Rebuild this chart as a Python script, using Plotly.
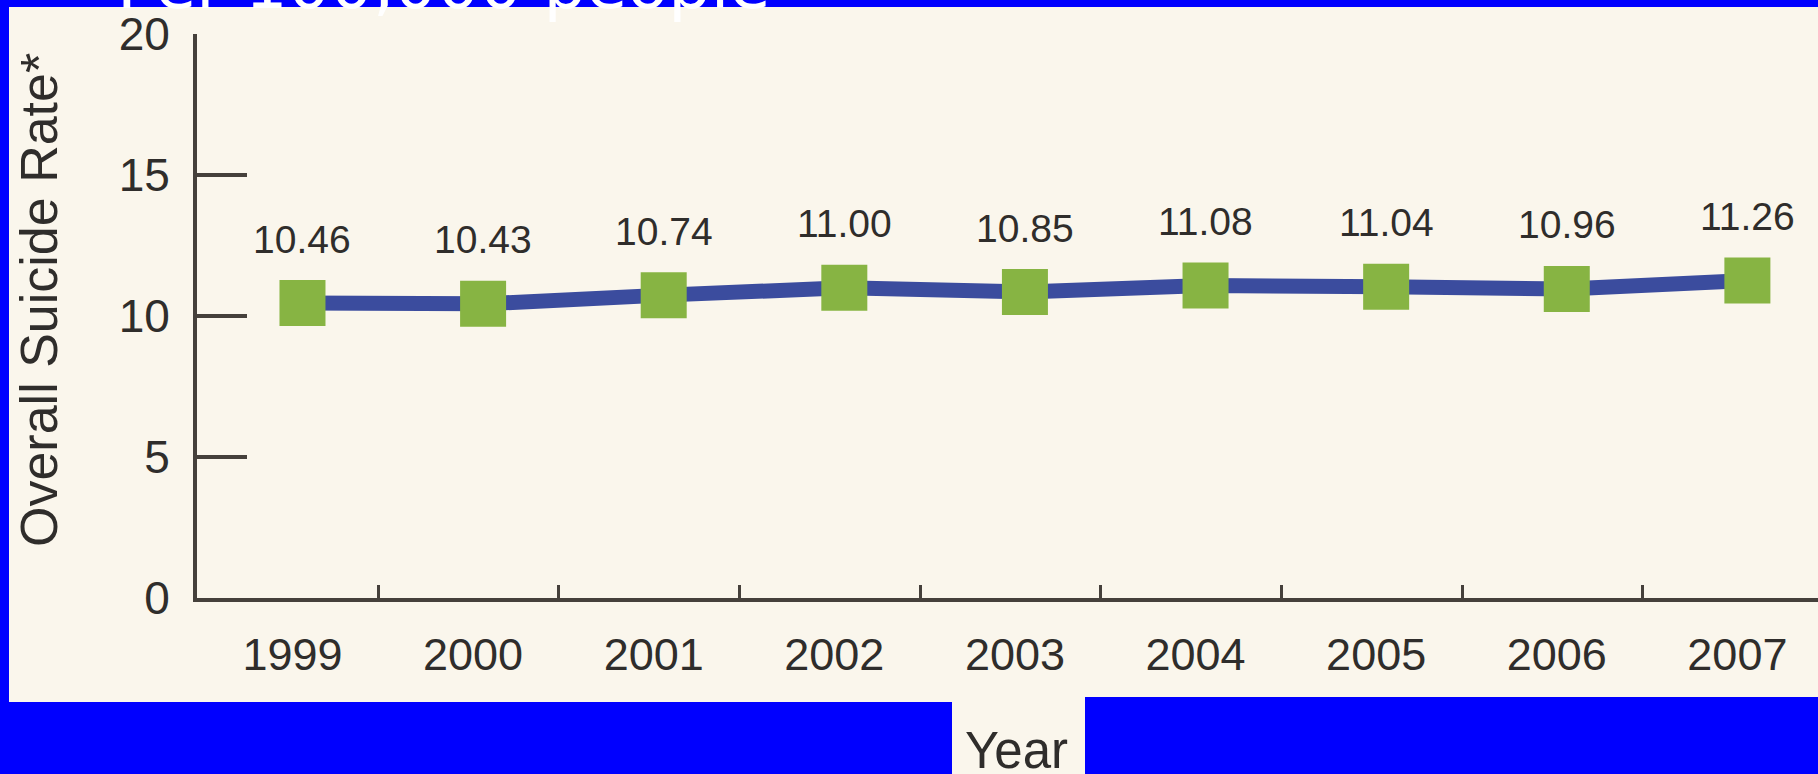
import plotly.graph_objects as go

# ---- data ----
years = ["1999", "2000", "2001", "2002", "2003", "2004", "2005", "2006", "2007"]
rates = [10.46, 10.43, 10.74, 11.00, 10.85, 11.08, 11.04, 10.96, 11.26]
y_ticks = [0, 5, 10, 15, 20]
title_text = "Per 100,000 people"
y_title = "Overall Suicide Rate*"
x_title = "Year"

W, H = 1818, 774
L, R, T, B = 197, 0, 34, 176
PW, PH = W - L - R, H - T - B

def px(x):
    return (x - L) / PW

def py(y):
    return (H - B - y) / PH

BLUE = "#0000ff"
CREAM = "#faf6ec"
AXIS = "#45403b"
TEXT = "#2f2d2b"
FONT = "Liberation Sans, Arial, sans-serif"

idx = list(range(len(years)))

fig = go.Figure()
fig.add_trace(go.Scatter(
    x=idx, y=rates, mode="lines+markers",
    line=dict(color="#3b4c9e", width=15),
    marker=dict(symbol="square", size=46, color="#87b443", line=dict(width=0)),
    hoverinfo="skip", showlegend=False,
))

annotations = []
for i, v in zip(idx, rates):
    annotations.append(dict(
        x=i, y=v, xref="x", yref="y", text=f"{v:.2f}", showarrow=False,
        yshift=64, xanchor="center", yanchor="middle",
        font=dict(family=FONT, size=39, color=TEXT),
    ))

annotations.append(dict(
    x=px(39), y=py(300), xref="paper", yref="paper", text=y_title,
    showarrow=False, textangle=-90, xanchor="center", yanchor="middle",
    font=dict(family=FONT, size=52, color=TEXT),
))
annotations.append(dict(
    x=px(1016), y=py(750.5), xref="paper", yref="paper", text=x_title,
    showarrow=False, xanchor="center", yanchor="middle",
    font=dict(family=FONT, size=51, color=TEXT),
))
annotations.append(dict(
    x=px(115), y=py(-15), xref="paper", yref="paper", text=title_text,
    showarrow=False, xanchor="left", yanchor="middle",
    font=dict(family="DejaVu Sans, Verdana, sans-serif", size=67, color="white"),
))

shapes = [
    dict(type="rect", xref="paper", yref="paper", layer="below",
         x0=px(9), x1=px(W), y0=py(7), y1=py(697),
         fillcolor=CREAM, line=dict(width=0)),
    dict(type="rect", xref="paper", yref="paper", layer="below",
         x0=px(9), x1=px(952), y0=py(690), y1=py(702),
         fillcolor=CREAM, line=dict(width=0)),
    dict(type="rect", xref="paper", yref="paper", layer="below",
         x0=px(952), x1=px(1085), y0=py(690), y1=py(H + 5),
         fillcolor=CREAM, line=dict(width=0)),
]

fig.update_layout(
    width=W, height=H,
    margin=dict(l=L, r=R, t=T, b=B, pad=0),
    paper_bgcolor=BLUE, plot_bgcolor="rgba(0,0,0,0)",
    showlegend=False,
    annotations=annotations, shapes=shapes,
    xaxis=dict(
        range=[-0.584, 8.391], tickvals=idx, ticktext=years,
        ticks="", showgrid=False, zeroline=False,
        showline=True, linecolor=AXIS, linewidth=4,
        tickfont=dict(family=FONT, size=45, color=TEXT),
        ticklabelshift=-10, ticklabelstandoff=14,
        minor=dict(tickvals=[i + 0.42 for i in idx[:-1]], ticks="inside",
                   ticklen=13, tickwidth=3, tickcolor=AXIS, showgrid=False),
    ),
    yaxis=dict(
        range=[0, 20], tickvals=y_ticks, ticks="inside", ticklen=50,
        tickwidth=4, tickcolor=AXIS, showgrid=False, zeroline=False,
        showline=True, linecolor=AXIS, linewidth=4,
        tickfont=dict(family=FONT, size=46, color=TEXT),
        ticklabelstandoff=14,
    ),
)

fig.write_html("out.html")
